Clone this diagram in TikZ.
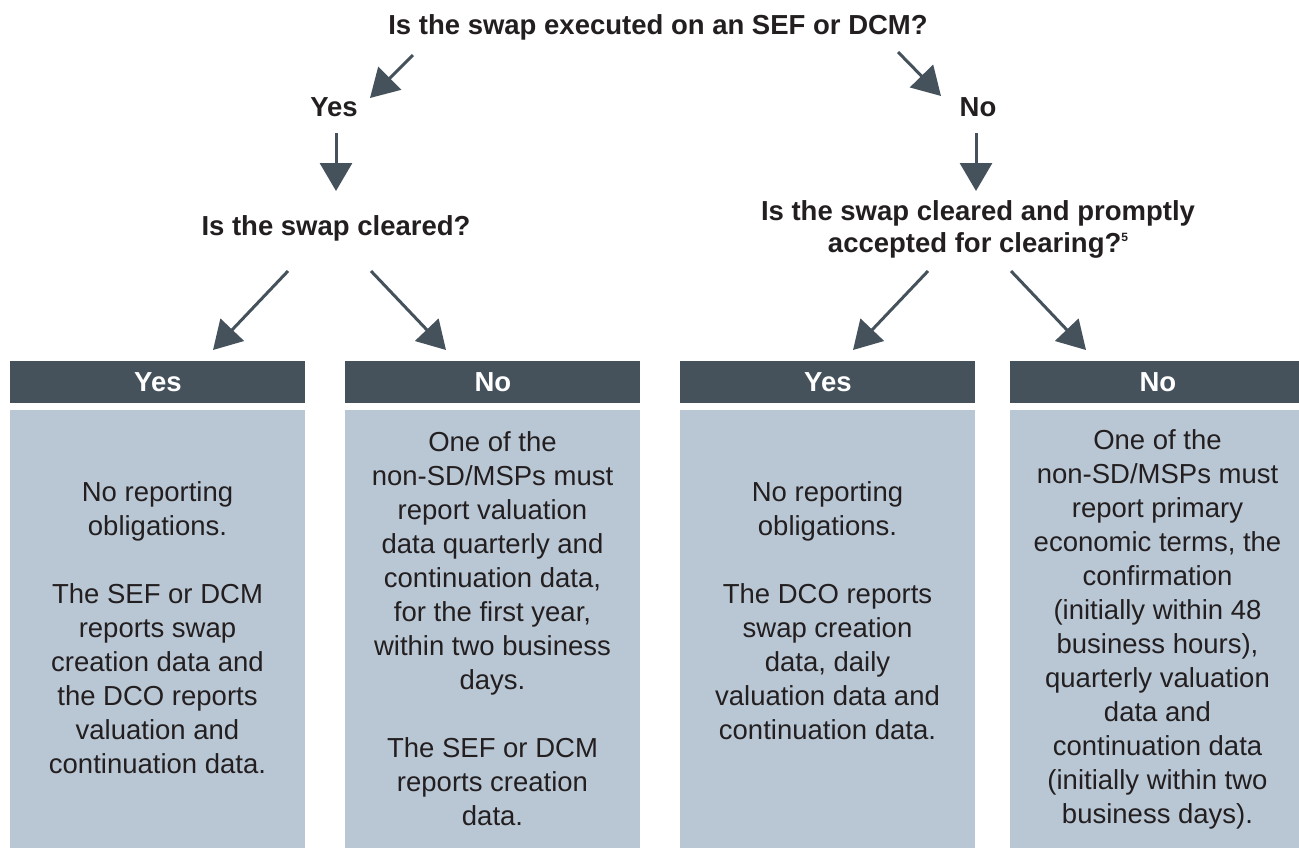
\documentclass[tikz,border=0pt]{standalone}
\usepackage{fontspec}
\setmainfont{Liberation Sans}
\usetikzlibrary{arrows.meta}
\definecolor{slate}{RGB}{69,82,92}
\definecolor{pale}{RGB}{185,199,213}
\definecolor{ink}{RGB}{35,31,32}
\begin{document}
\begin{tikzpicture}[x=0.5pt,y=-0.5pt,
  q/.style={font=\fontsize{13.75}{16}\selectfont\bfseries, text=ink, inner sep=0pt, align=center},
  hdr/.style={fill=slate, text=white, font=\fontsize{13.75}{16}\selectfont\bfseries, minimum width=147.5pt, minimum height=21pt, inner sep=0pt, anchor=north west},
  body/.style={fill=pale, minimum width=147.5pt, minimum height=219pt, inner sep=0pt, anchor=north west},
  txt/.style={font=\fontsize{13.75}{17}\selectfont, text=ink, inner sep=0pt, align=center},
  arr/.style={draw=slate, line width=1.5pt, -{Triangle[length=14pt,width=16pt]}}
]
\useasboundingbox (0,0) rectangle (1299,848);

% questions
\node[q] (q0) at (658,27) {Is the swap executed on an SEF or DCM?};
\node[q] (yes0) at (334,107) {Yes};
\node[q] (no0) at (978,107) {No};
\node[q] (q1) at (336,228) {Is the swap cleared?};
\node[q] (q2) at (978,229) {Is the swap cleared and promptly\\[0pt]accepted for clearing?\raisebox{5.4pt}{\fontsize{6}{7}\selectfont\bfseries 5}};

% headers and bodies
\node[hdr] (h1) at (10,361) {Yes};
\node[hdr] (h2) at (345,361) {No};
\node[hdr] (h3) at (680,361) {Yes};
\node[hdr, minimum width=144.5pt] (h4) at (1010,361) {\hspace*{3pt}No};
\node[body] (b1) at (10,410) {};
\node[body] (b2) at (345,410) {};
\node[body] (b3) at (680,410) {};
\node[body, minimum width=144.5pt] (b4) at (1010,410) {};

\node[txt] (t1) at (157.5,628) {No reporting\\obligations.\\[17pt]The SEF or DCM\\reports swap\\creation data and\\the DCO reports\\valuation and\\continuation data.};
\node[txt] (t2) at (492.5,629) {One of the\\non-SD/MSPs must\\report valuation\\data quarterly and\\continuation data,\\for the first year,\\within two business\\days.\\[17pt]The SEF or DCM\\reports creation\\data.};
\node[txt] (t3) at (827.5,611) {No reporting\\obligations.\\[17pt]The DCO reports\\swap creation\\data, daily\\valuation data and\\continuation data.};
\node[txt] (t4) at (1157.5,629) {One of the\\non-SD/MSPs must\\report primary\\economic terms, the\\confirmation\\(initially within 48\\business hours),\\quarterly valuation\\data and\\continuation data\\(initially within two\\business days).};

% arrow end points
\coordinate (a1s) at (413,55);  \coordinate (a1e) at (370,98);
\coordinate (a2s) at (898,52);  \coordinate (a2e) at (941,96);
\coordinate (a3s) at (336,133); \coordinate (a3e) at (336,191);
\coordinate (a4s) at (976,133); \coordinate (a4e) at (976,191);
\coordinate (a5s) at (288,271); \coordinate (a5e) at (213,350);
\coordinate (a6s) at (371,271); \coordinate (a6e) at (446,350);
\coordinate (a7s) at (928,271); \coordinate (a7e) at (853,350);
\coordinate (a8s) at (1011,271); \coordinate (a8e) at (1086,350);

\draw[arr] (a1s) -- (a1e);
\draw[arr] (a2s) -- (a2e);
\draw[arr] (a3s) -- (a3e);
\draw[arr] (a4s) -- (a4e);
\draw[arr] (a5s) -- (a5e);
\draw[arr] (a6s) -- (a6e);
\draw[arr] (a7s) -- (a7e);
\draw[arr] (a8s) -- (a8e);
\end{tikzpicture}
\end{document}
